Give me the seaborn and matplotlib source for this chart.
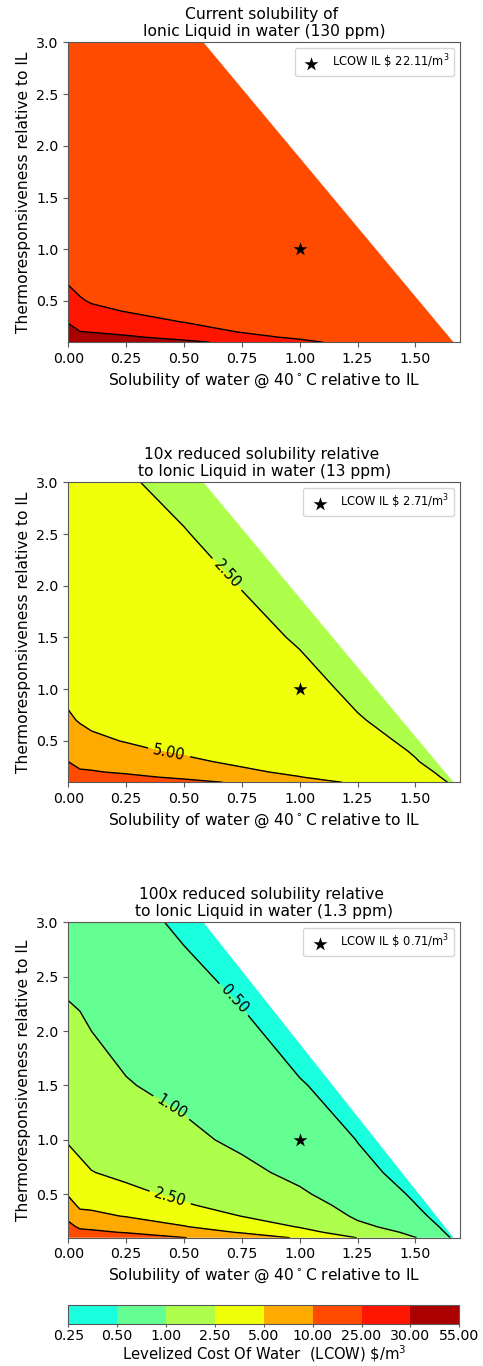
import numpy as np
import matplotlib
matplotlib.use("Agg")
import matplotlib.pyplot as plt
from matplotlib.patches import Polygon
import seaborn as sns

# ---------------- data ----------------
solubility = [0.0, 0.05, 0.1, 0.25, 0.5, 0.75, 1.0, 1.25, 1.5, 1.7]          # x grid
thermo = [0.1, 0.15, 0.2, 0.3, 0.4, 0.5, 0.7, 1.0, 1.5, 2.0, 2.5, 3.0]       # y grid

# LCOW ($/m3), rows = thermo, cols = solubility
lcow_130ppm = [
    [43.50, 39.00, 38.14, 35.57, 31.43, 28.27, 25.87, 23.75, 22.30, 21.61],
    [37.40, 33.10, 32.57, 30.84, 28.10, 26.00, 24.41, 22.85, 22.07, 21.61],
    [33.35, 30.20, 29.79, 28.47, 26.43, 24.87, 23.69, 22.45, 21.96, 21.61],
    [29.30, 27.10, 27.01, 26.10, 24.90, 23.74, 22.96, 22.16, 21.84, 21.61],
    [27.28, 25.80, 25.62, 24.92, 23.93, 23.17, 22.59, 22.03, 21.79, 21.61],
    [26.06, 25.25, 24.78, 24.21, 23.43, 22.83, 22.37, 21.94, 21.75, 21.61],
    [24.67, 24.15, 23.83, 23.40, 22.86, 22.44, 22.12, 21.84, 21.71, 21.61],
    [23.63, 23.35, 23.11, 22.79, 22.43, 22.15, 21.94, 21.78, 21.68, 21.61],
    [22.82, 22.68, 22.55, 22.32, 22.10, 21.92, 21.79, 21.72, 21.66, 21.61],
    [22.42, 22.35, 22.28, 22.08, 21.93, 21.81, 21.72, 21.69, 21.65, 21.61],
    [22.17, 22.16, 22.11, 21.94, 21.83, 21.74, 21.67, 21.67, 21.64, 21.61],
    [22.01, 22.03, 22.00, 21.84, 21.76, 21.70, 21.65, 21.66, 21.64, 21.61],
]
lcow_13ppm = [
    [24.18, 19.68, 18.82, 16.25, 12.11, 8.95, 6.55, 4.43, 2.98, 2.29],
    [18.08, 13.78, 13.25, 11.52, 8.78, 6.68, 5.09, 3.53, 2.75, 2.29],
    [14.03, 10.88, 10.47, 9.15, 7.11, 5.55, 4.37, 3.13, 2.64, 2.29],
    [9.98, 7.78, 7.69, 6.78, 5.58, 4.42, 3.64, 2.84, 2.52, 2.29],
    [7.96, 6.48, 6.30, 5.60, 4.61, 3.85, 3.27, 2.71, 2.47, 2.29],
    [6.74, 5.93, 5.46, 4.89, 4.11, 3.51, 3.05, 2.62, 2.43, 2.29],
    [5.35, 4.83, 4.51, 4.08, 3.54, 3.12, 2.80, 2.52, 2.39, 2.29],
    [4.31, 4.03, 3.79, 3.47, 3.11, 2.83, 2.60, 2.44, 2.36, 2.29],
    [3.50, 3.36, 3.23, 3.00, 2.78, 2.60, 2.47, 2.40, 2.34, 2.29],
    [3.10, 3.03, 2.96, 2.76, 2.61, 2.49, 2.40, 2.37, 2.33, 2.29],
    [2.85, 2.84, 2.79, 2.62, 2.51, 2.42, 2.35, 2.35, 2.32, 2.29],
    [2.69, 2.71, 2.68, 2.52, 2.44, 2.38, 2.33, 2.34, 2.32, 2.29],
]
lcow_1p3ppm = [
    [22.22, 17.72, 16.86, 14.29, 10.15, 6.99, 4.59, 2.47, 1.02, 0.33],
    [16.12, 11.82, 11.29, 9.56, 6.82, 4.72, 3.13, 1.57, 0.79, 0.33],
    [12.07, 8.92, 8.51, 7.19, 5.15, 3.59, 2.41, 1.17, 0.68, 0.33],
    [8.02, 5.82, 5.73, 4.82, 3.62, 2.46, 1.68, 0.88, 0.56, 0.33],
    [6.00, 4.52, 4.34, 3.64, 2.65, 1.89, 1.31, 0.75, 0.505, 0.33],
    [4.78, 3.97, 3.50, 2.93, 2.15, 1.55, 1.09, 0.66, 0.47, 0.33],
    [3.39, 2.87, 2.55, 2.12, 1.58, 1.16, 0.84, 0.555, 0.43, 0.33],
    [2.35, 2.07, 1.83, 1.51, 1.15, 0.87, 0.66, 0.495, 0.40, 0.33],
    [1.54, 1.40, 1.27, 1.04, 0.82, 0.64, 0.51, 0.44, 0.38, 0.33],
    [1.14, 1.07, 1.00, 0.80, 0.65, 0.53, 0.44, 0.41, 0.37, 0.33],
    [0.89, 0.88, 0.83, 0.66, 0.54, 0.46, 0.39, 0.39, 0.36, 0.33],
    [0.73, 0.75, 0.72, 0.56, 0.47, 0.42, 0.37, 0.38, 0.36, 0.33],
]

levels = [0.25, 0.5, 1.0, 2.5, 5.0, 10.0, 25.0, 30.0, 55.0]
labelled_levels = [[], [2.5, 5.0], [0.5, 1.0, 2.5]]

titles = [
    "Current solubility of \nIonic Liquid in water (130 ppm)",
    "10x reduced solubility relative \nto Ionic Liquid in water (13 ppm)",
    "100x reduced solubility relative \nto Ionic Liquid in water (1.3 ppm)",
]
star_x = [1.0]
star_y = [1.0]
star_lcow = ["22.11", "2.71", "0.71"]

# feasible-region boundary (white area beyond it)
feasible_x = [0.0, 0.0, 0.584, 1.665]
feasible_y = [0.1, 3.0, 3.0, 0.1]

# ---------------- style ----------------
level_colors = ["#1AFFDE", "#64FF92", "#ADFF4C", "#F0FF0A",
                "#FFAA00", "#FF4B00", "#FF1600", "#AA0000"]
# where the inline contour labels sit (style / placement)
label_spots = [[], [(0.68, 2.1), (0.44, 0.44)],
               [(0.72, 2.3), (0.44, 1.28), (0.44, 0.47)]]

sns.set_style("ticks")
plt.rcParams.update({
    "font.family": ["DejaVu Sans"],
    "text.color": "black",
    "axes.labelcolor": "black",
    "axes.linewidth": 0.8,
    "axes.edgecolor": "0.35",
    "xtick.major.size": 3.5,
    "ytick.major.size": 3.5,
    "xtick.major.width": 0.8,
    "ytick.major.width": 0.8,
    "xtick.color": "0.35",
    "ytick.color": "0.35",
    "xtick.labelcolor": "black",
    "ytick.labelcolor": "black",
})

fig = plt.figure(figsize=(4.83, 13.66), dpi=100)
axes_rects = [
    [0.1414, 0.7494, 0.811, 0.2196],
    [0.1414, 0.4273, 0.811, 0.2196],
    [0.1414, 0.0939, 0.811, 0.2309],
]
cax = fig.add_axes([0.1414, 0.0307, 0.8095, 0.0139])

X, Y = np.meshgrid(solubility, thermo)
tables = [lcow_130ppm, lcow_13ppm, lcow_1p3ppm]

cs_last = None
for i, rect in enumerate(axes_rects):
    ax = fig.add_axes(rect)
    Z = np.array(tables[i])
    clip = Polygon(np.column_stack([feasible_x, feasible_y]), closed=True,
                   transform=ax.transData, facecolor="none", edgecolor="none")
    ax.add_patch(clip)
    cf = ax.contourf(X, Y, Z, levels=levels, colors=level_colors)
    cf.set_clip_path(clip)

    plain = [lv for lv in levels if lv not in labelled_levels[i]]
    cl = ax.contour(X, Y, Z, levels=plain, colors="black", linewidths=1.0)
    cl.set_clip_path(clip)
    if labelled_levels[i]:
        cl2 = ax.contour(X, Y, Z, levels=labelled_levels[i], colors="black",
                         linewidths=1.0)
        cl2.set_clip_path(clip)
        ax.clabel(cl2, fmt="%.2f", fontsize=10.5, inline=True,
                  manual=label_spots[i])
    cs_last = cf

    sns.scatterplot(x=star_x, y=star_y, marker="*", s=110, color="black",
                    linewidth=0, ax=ax,
                    label=r"LCOW IL \$ " + star_lcow[i] + r"/m$^3$")
    ax.legend(loc="upper right", fontsize=8.3, scatterpoints=1)

    ax.set_xlim(0, 1.693)
    ax.set_ylim(0.1, 3.0)
    ax.set_xticks([0.0, 0.25, 0.5, 0.75, 1.0, 1.25, 1.5])
    ax.set_yticks([0.5, 1.0, 1.5, 2.0, 2.5, 3.0])
    ax.xaxis.set_major_formatter(matplotlib.ticker.FormatStrFormatter("%.2f"))
    ax.yaxis.set_major_formatter(matplotlib.ticker.FormatStrFormatter("%.1f"))
    ax.tick_params(labelsize=10.2)
    ax.set_title(titles[i], fontsize=11.2, pad=4.5, color="black")
    ax.set_xlabel(r"Solubility of water @ 40$^\circ$C relative to IL", fontsize=11.2)
    ax.set_ylabel("Thermoresponsiveness relative to IL", fontsize=11.2)

cb = fig.colorbar(cs_last, cax=cax, orientation="horizontal", ticks=levels,
                  format="%.2f", spacing="uniform")
cb.ax.tick_params(labelsize=10.2, length=2, pad=1.5)
cb.set_label(r"Levelized Cost Of Water  (LCOW) \$/m$^3$", fontsize=10.6, labelpad=0)

fig.savefig("out.png", dpi=100)
